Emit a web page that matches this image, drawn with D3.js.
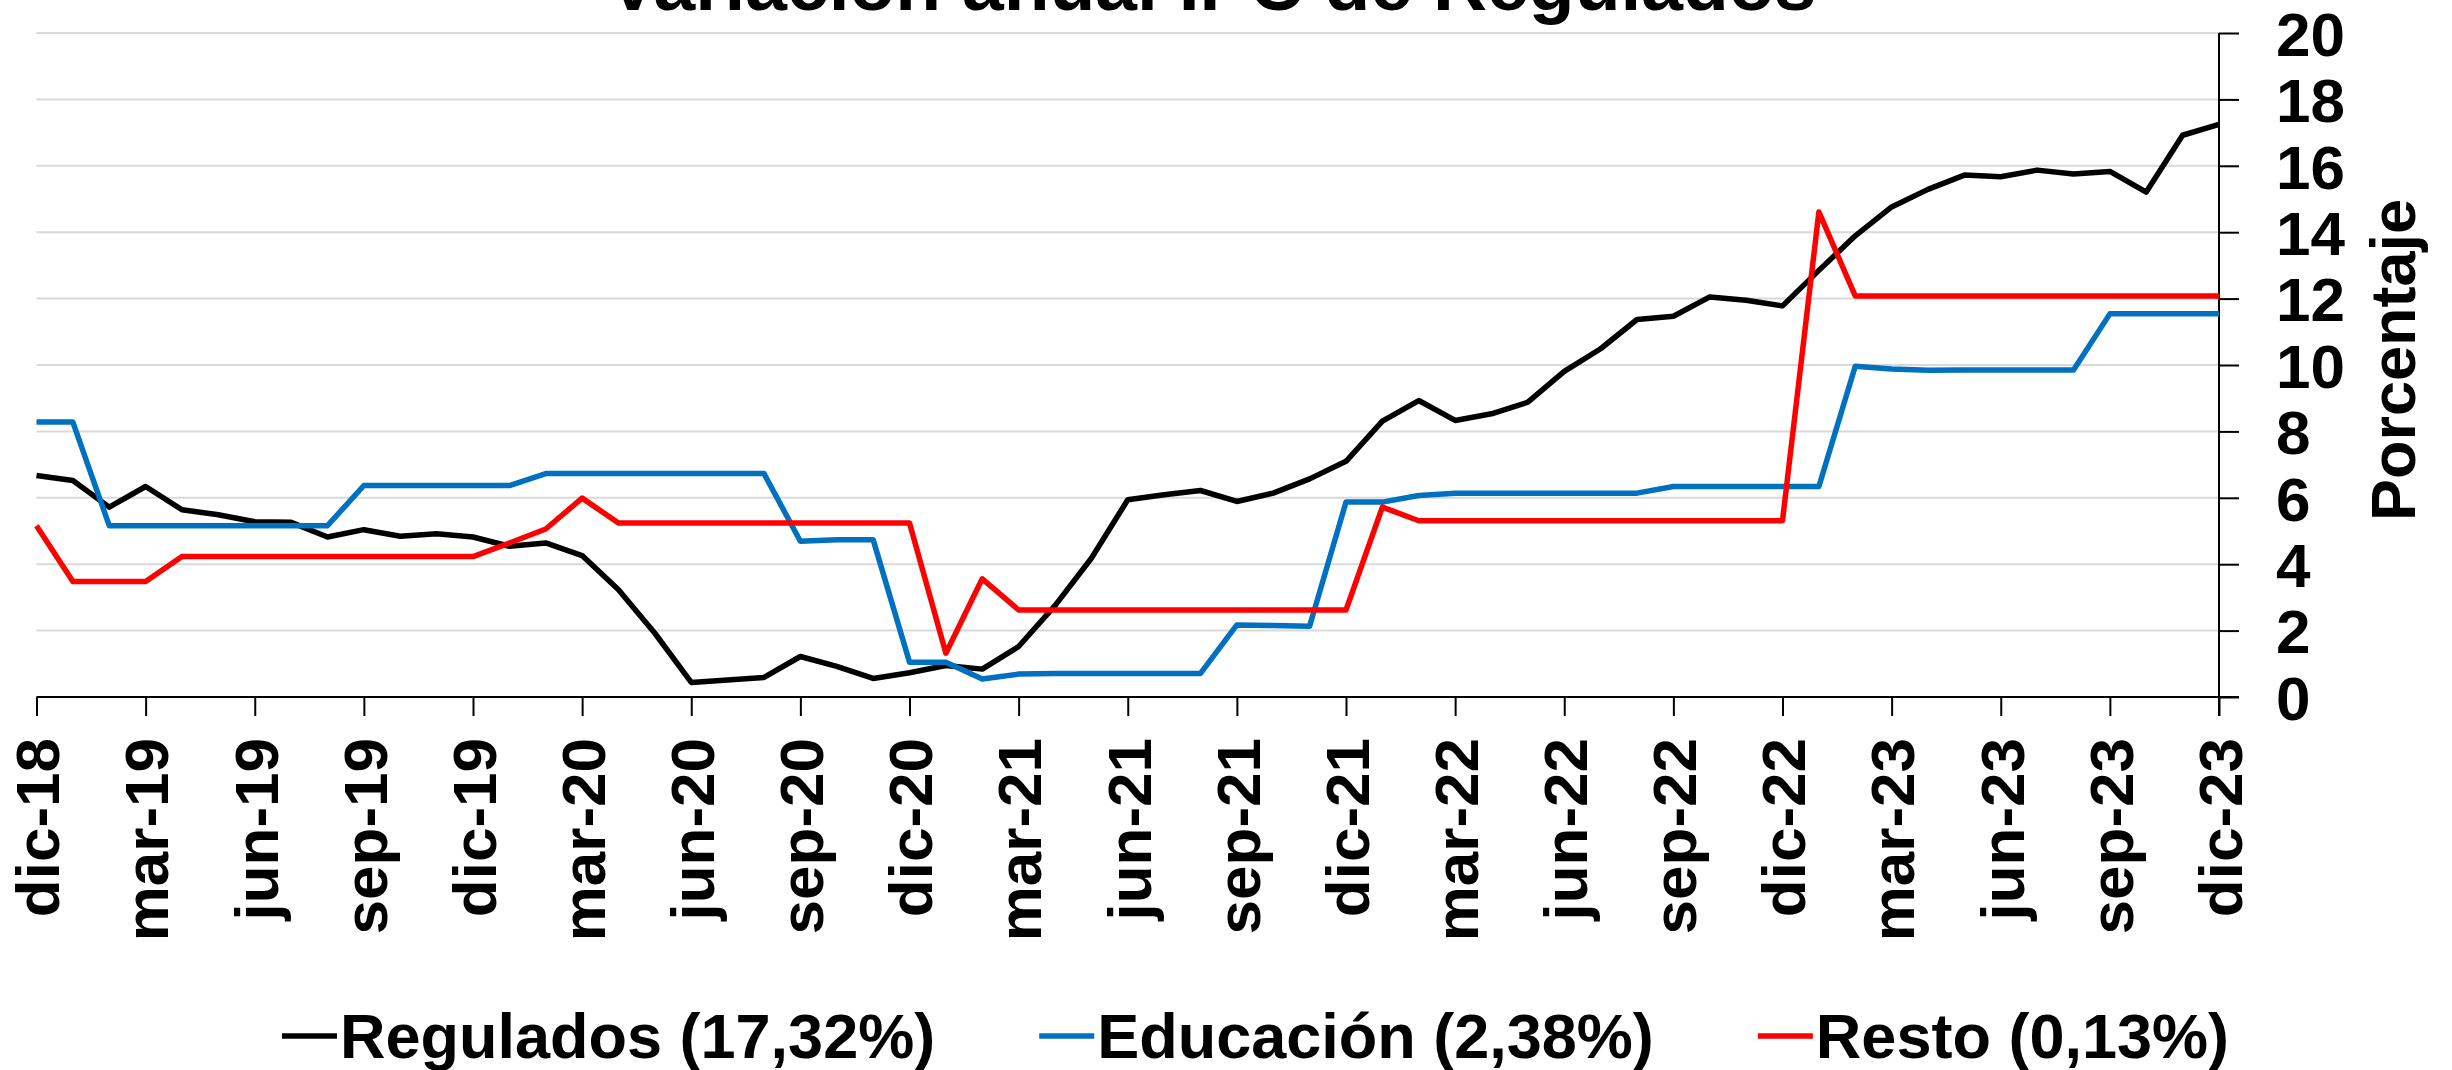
<!DOCTYPE html>
<html>
<head>
<meta charset="utf-8">
<script src="https://cdn.jsdelivr.net/npm/d3@7"></script>
<style>
  body { margin: 0; background: #fff; }
  text { font-family: "Liberation Sans", Arial, sans-serif; font-weight: bold; }
</style>
</head>
<body>
<svg id="my_svg"></svg>
<script>
const width = 2452;
const height = 1070;

// datos mensuales dic-18 .. dic-23 (variación anual, %)
const regulados = [
    6.67, 6.52, 5.72, 6.34, 5.64, 5.49, 5.28, 5.26, 4.82, 5.04, 4.84, 4.92,
    4.82, 4.54, 4.64, 4.26, 3.23, 1.92, 0.44, 0.51, 0.59, 1.22, 0.92, 0.56,
    0.73, 0.95, 0.84, 1.52, 2.75, 4.18, 5.94, 6.09, 6.22, 5.89, 6.14, 6.57,
    7.10, 8.31, 8.93, 8.33, 8.53, 8.88, 9.81, 10.49, 11.37, 11.47, 12.05, 11.95,
    11.78, 12.85, 13.89, 14.76, 15.29, 15.72, 15.67, 15.87, 15.75, 15.83, 15.21, 16.92,
    17.25
];
const educacion = [
    8.28, 8.28, 5.16, 5.16, 5.16, 5.16, 5.16, 5.16, 5.16, 6.37, 6.37, 6.37,
    6.37, 6.37, 6.73, 6.73, 6.73, 6.73, 6.73, 6.73, 6.73, 4.69, 4.74, 4.74,
    1.05, 1.05, 0.54, 0.69, 0.71, 0.71, 0.71, 0.71, 0.71, 2.17, 2.15, 2.13,
    5.87, 5.87, 6.07, 6.14, 6.14, 6.14, 6.14, 6.14, 6.14, 6.34, 6.34, 6.34,
    6.34, 6.34, 9.96, 9.88, 9.84, 9.85, 9.85, 9.85, 9.85, 11.54, 11.54, 11.54,
    11.54
];
const resto = [
    5.16, 3.48, 3.48, 3.48, 4.23, 4.23, 4.23, 4.23, 4.23, 4.23, 4.23, 4.23,
    4.23, 4.64, 5.06, 5.99, 5.24, 5.24, 5.24, 5.24, 5.24, 5.24, 5.24, 5.24,
    5.24, 1.32, 3.56, 2.62, 2.62, 2.62, 2.62, 2.62, 2.62, 2.62, 2.62, 2.62,
    2.62, 5.72, 5.31, 5.31, 5.31, 5.31, 5.31, 5.31, 5.31, 5.31, 5.31, 5.31,
    5.31, 14.61, 12.08, 12.08, 12.08, 12.08, 12.08, 12.08, 12.08, 12.08, 12.08, 12.08,
    12.08
];

const tickLabels = [
    'dic-18', 'mar-19', 'jun-19', 'sep-19', 'dic-19', 'mar-20', 'jun-20',
    'sep-20', 'dic-20', 'mar-21', 'jun-21', 'sep-21', 'dic-21', 'mar-22',
    'jun-22', 'sep-22', 'dic-22', 'mar-23', 'jun-23', 'sep-23', 'dic-23'
];
const yTicks = [0, 2, 4, 6, 8, 10, 12, 14, 16, 18, 20];

const seriesNames = ['Regulados (17,32%)', 'Educación (2,38%)', 'Resto (0,13%)'];
const seriesColors = ['#000000', '#0070c0', '#ff0000'];
const series = [regulados, educacion, resto];

const svg = d3.select('#my_svg')
    .attr('width', width)
    .attr('height', height);

const plotLeft = 36.5, plotRight = 2219, plotTop = 33, plotBottom = 697;

const x = d3.scaleLinear()
    .domain([0, regulados.length - 1])
    .range([plotLeft, plotRight]);

const y = d3.scaleLinear()
    .domain([0, 20])
    .range([plotBottom, plotTop]);

// líneas de rejilla
svg.append('g')
    .selectAll('line')
    .data(yTicks.filter(d => d > 0))
    .enter().append('line')
    .attr('x1', plotLeft)
    .attr('x2', plotRight)
    .attr('y1', d => y(d))
    .attr('y2', d => y(d))
    .attr('stroke', '#d9d9d9')
    .attr('stroke-width', 2);

// eje x
const xAxis = svg.append('g')
    .attr('transform', `translate(0,${plotBottom})`)
    .call(d3.axisBottom(x)
        .tickValues(tickLabels.map((d, i) => i * 3))
        .tickSize(19)
        .tickFormat(d => tickLabels[d / 3]));
xAxis.select('.domain')
    .attr('d', `M${plotLeft},0H${plotRight + 20}`)
    .attr('stroke', '#000')
    .attr('stroke-width', 2);
xAxis.selectAll('.tick line')
    .attr('stroke', '#000')
    .attr('stroke-width', 2);
xAxis.selectAll('.tick text')
    .attr('font-size', 62)
    .attr('fill', '#000')
    .attr('text-anchor', 'end')
    .attr('transform', 'translate(0,41) rotate(-90)')
    .attr('x', 0)
    .attr('y', 0)
    .attr('dy', '0.36em');

// eje y a la derecha
const yAxis = svg.append('g')
    .attr('transform', `translate(${plotRight},0)`)
    .call(d3.axisRight(y)
        .tickValues(yTicks)
        .tickSize(20)
        .tickFormat(d3.format('d')));
yAxis.select('.domain')
    .attr('d', `M0,${plotTop}V${plotBottom + 19}`)
    .attr('stroke', '#000')
    .attr('stroke-width', 2);
yAxis.selectAll('.tick line')
    .attr('stroke', '#000')
    .attr('stroke-width', 2);
yAxis.selectAll('.tick text')
    .attr('font-size', 62)
    .attr('fill', '#000')
    .attr('x', 57)
    .attr('dy', '0.36em');

svg.append('text')
    .attr('transform', 'translate(2415,360) rotate(-90)')
    .attr('text-anchor', 'middle')
    .attr('font-size', 63)
    .text('Porcentaje');

// título (cortado en el borde superior, como en el original)
svg.append('text')
    .attr('x', 1212)
    .attr('y', 10)
    .attr('text-anchor', 'middle')
    .attr('font-size', 75)
    .text('Variación anual IPC de Regulados');

// series
const line = d3.line()
    .x((d, i) => x(i))
    .y(d => y(d));

svg.append('g')
    .selectAll('path')
    .data(series)
    .enter().append('path')
    .attr('d', line)
    .attr('fill', 'none')
    .attr('stroke', (d, i) => seriesColors[i])
    .attr('stroke-width', 5.5)
    .attr('stroke-linejoin', 'round');

// leyenda
const legend = svg.append('g');
let lx = 282;
seriesNames.forEach((name, i) => {
    legend.append('line')
        .attr('x1', lx)
        .attr('x2', lx + 55)
        .attr('y1', 1036)
        .attr('y2', 1036)
        .attr('stroke', seriesColors[i])
        .attr('stroke-width', 5.5);
    const t = legend.append('text')
        .attr('x', lx + 58)
        .attr('y', 1058)
        .attr('font-size', 63)
        .text(name);
    lx += 58 + t.node().getComputedTextLength() + 104;
});
</script>
</body>
</html>
